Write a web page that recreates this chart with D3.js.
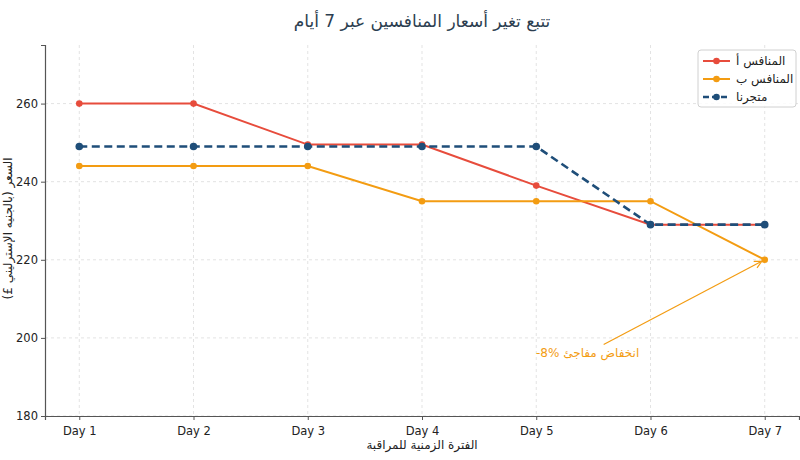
<!DOCTYPE html>
<html>
<head>
<meta charset="utf-8">
<script src="https://cdn.jsdelivr.net/npm/d3@7"></script>
<style>
  body { margin: 0; background: #fff; }
  svg text { font-family: "DejaVu Sans", sans-serif; }
</style>
</head>
<body>
<div id="chart"></div>
<script>
var days = ["Day 1", "Day 2", "Day 3", "Day 4", "Day 5", "Day 6", "Day 7"];
var competitorA = [260, 260, 249.5, 249.5, 239, 229, 229];
var competitorB = [244, 244, 244, 235, 235, 235, 220];
var ourStore = [249, 249, 249, 249, 249, 229, 229];
var yTicks = [180, 200, 220, 240, 260];

var seriesNames = ["المنافس أ", "المنافس ب", "متجرنا"];
var seriesColors = ["#e74c3c", "#f39c12", "#1f4e79"];

var svgWidth = 800;
var svgHeight = 460;
var margin = { top: 45, right: 1, bottom: 44, left: 45 };
var width = svgWidth - margin.left - margin.right;
var height = svgHeight - margin.top - margin.bottom;

var svg = d3.select("#chart")
  .append("svg")
  .attr("width", svgWidth)
  .attr("height", svgHeight);

var chartGroup = svg.append("g")
  .attr("transform", `translate(${margin.left}, ${margin.top})`);

// x: index scale with matplotlib-like 5% padding
var xScale = d3.scaleLinear()
  .domain([-0.3, days.length - 1 + 0.3])
  .range([0, width]);

var yScale = d3.scaleLinear()
  .domain([180, 275])
  .range([height, 0]);

// grid
chartGroup.append("g")
  .selectAll("line")
  .data(yTicks)
  .enter()
  .append("line")
  .attr("x1", 0)
  .attr("x2", width)
  .attr("y1", d => yScale(d))
  .attr("y2", d => yScale(d))
  .attr("stroke", "#e3e3e3")
  .attr("stroke-dasharray", "3,3");

chartGroup.append("g")
  .selectAll("line")
  .data(days)
  .enter()
  .append("line")
  .attr("x1", (d, i) => xScale(i))
  .attr("x2", (d, i) => xScale(i))
  .attr("y1", 0)
  .attr("y2", height)
  .attr("stroke", "#e3e3e3")
  .attr("stroke-dasharray", "3,3");

// axes
var bottomAxis = d3.axisBottom(xScale)
  .tickValues(d3.range(days.length))
  .tickFormat(i => days[i])
  .tickSizeOuter(0)
  .tickSize(4);

var leftAxis = d3.axisLeft(yScale)
  .tickValues(yTicks)
  .tickSizeOuter(0)
  .tickSize(4);

var xAxisG = chartGroup.append("g")
  .attr("transform", `translate(0, ${height})`)
  .call(bottomAxis);

var yAxisG = chartGroup.append("g")
  .call(leftAxis);

[xAxisG, yAxisG].forEach(function(g) {
  g.select(".domain").attr("stroke", "#555").attr("stroke-width", 1.2);
  g.selectAll(".tick line").attr("stroke", "#555");
  g.selectAll(".tick text")
    .attr("fill", "#222")
    .attr("font-size", 11.5)
    .style("font-family", "DejaVu Sans, sans-serif");
});
xAxisG.selectAll(".tick text").attr("dy", "1.05em");

// lines
var lineGen = d3.line()
  .x((d, i) => xScale(i))
  .y(d => yScale(d));

var allSeries = [competitorA, competitorB, ourStore];

allSeries.forEach(function(values, s) {
  var dashed = s === 2;
  chartGroup.append("path")
    .datum(values)
    .attr("d", lineGen)
    .attr("fill", "none")
    .attr("stroke", seriesColors[s])
    .attr("stroke-width", dashed ? 2.6 : 2)
    .attr("stroke-dasharray", dashed ? "8,4.5" : null);

  chartGroup.append("g")
    .selectAll("circle")
    .data(values)
    .enter()
    .append("circle")
    .attr("cx", (d, i) => xScale(i))
    .attr("cy", d => yScale(d))
    .attr("r", dashed ? 3.8 : 3.3)
    .attr("fill", seriesColors[s]);
});

// annotation (the -8% is isolated so it keeps its LTR order)
var annoText = "انخفاض مفاجئ \u2066-8%\u2069";
var annoPos = { x: 4.45, y: 195 };
var annoTarget = { x: 6, y: 220 };

svg.append("defs").append("marker")
  .attr("id", "arrow")
  .attr("viewBox", "0 0 10 10")
  .attr("refX", 9)
  .attr("refY", 5)
  .attr("markerWidth", 9)
  .attr("markerHeight", 9)
  .attr("markerUnits", "userSpaceOnUse")
  .attr("orient", "auto")
  .append("path")
  .attr("d", "M1,1 L9,5 L1,9")
  .attr("fill", "none")
  .attr("stroke", "#f39c12")
  .attr("stroke-width", 1.3);

chartGroup.append("line")
  .attr("x1", xScale(annoPos.x) + 16)
  .attr("y1", yScale(annoPos.y) - 13)
  .attr("x2", xScale(annoTarget.x) - 3)
  .attr("y2", yScale(annoTarget.y) + 1.5)
  .attr("stroke", "#f39c12")
  .attr("stroke-width", 1.2)
  .attr("marker-end", "url(#arrow)");

chartGroup.append("text")
  .attr("x", xScale(annoPos.x))
  .attr("y", yScale(annoPos.y))
  .attr("text-anchor", "middle")
  .attr("direction", "rtl")
  .attr("fill", "#f39c12")
  .attr("font-size", 12)
  .text(annoText);

// title and axis labels
svg.append("text")
  .attr("x", margin.left + width / 2)
  .attr("y", 27)
  .attr("text-anchor", "middle")
  .attr("direction", "rtl")
  .attr("fill", "#2c3e50")
  .attr("font-size", 17)
  .text("تتبع تغير أسعار المنافسين عبر 7 أيام");

svg.append("text")
  .attr("x", margin.left + width / 2)
  .attr("y", 449)
  .attr("text-anchor", "middle")
  .attr("direction", "rtl")
  .attr("fill", "#222")
  .attr("font-size", 12)
  .text("الفترة الزمنية للمراقبة");

svg.append("text")
  .attr("transform", `translate(12, ${margin.top + height / 2 - 2}) rotate(-90)`)
  .attr("text-anchor", "middle")
  .attr("direction", "rtl")
  .attr("fill", "#222")
  .attr("font-size", 12)
  .text("السعر (بالجنيه الإسترليني £)");

// legend
var legend = svg.append("g")
  .attr("transform", "translate(698, 50)");

legend.append("rect")
  .attr("width", 98)
  .attr("height", 57)
  .attr("rx", 3)
  .attr("fill", "#fff")
  .attr("fill-opacity", 0.85)
  .attr("stroke", "#d0d0d0");

seriesNames.forEach(function(name, s) {
  var ly = 11 + s * 18;
  var dashed = s === 2;
  legend.append("line")
    .attr("x1", 5)
    .attr("x2", 32)
    .attr("y1", ly)
    .attr("y2", ly)
    .attr("stroke", seriesColors[s])
    .attr("stroke-width", dashed ? 2.6 : 2)
    .attr("stroke-dasharray", dashed ? "6,3" : null);
  legend.append("circle")
    .attr("cx", 18.5)
    .attr("cy", ly)
    .attr("r", 3.3)
    .attr("fill", seriesColors[s]);
  legend.append("text")
    .attr("x", 38)
    .attr("y", ly + 4)
    .attr("fill", "#222")
    .attr("font-size", 12)
    .text(name);
});
</script>
</body>
</html>
